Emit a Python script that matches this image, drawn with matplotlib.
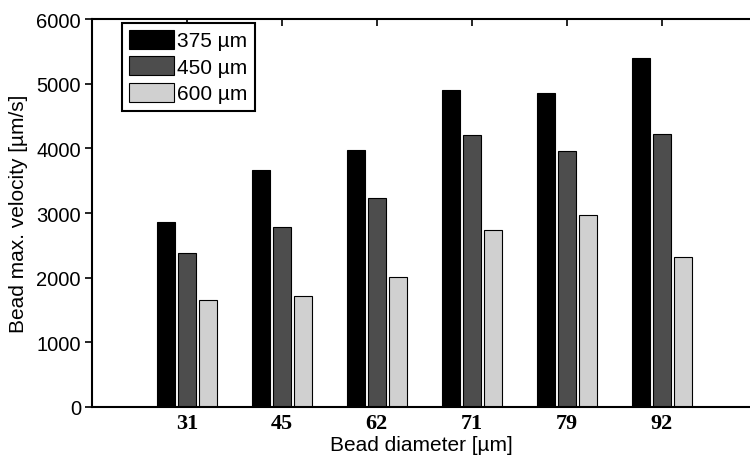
import numpy as np
import matplotlib.pyplot as plt

diameters = ["31", "45", "62", "71", "79", "92"]
series = ["375 µm", "450 µm", "600 µm"]
v375 = [2860, 3660, 3970, 4905, 4855, 5390]
v450 = [2380, 2785, 3225, 4205, 3965, 4225]
v600 = [1650, 1720, 2010, 2735, 2970, 2320]

COLORS = ["#000000", "#4d4d4d", "#d0d0d0"]


def plot():
    fig = plt.figure(figsize=(7.5, 4.6), dpi=100)
    ax = fig.add_axes([92 / 750, 52 / 460, 658 / 750, 388 / 460])

    x = np.arange(1, len(diameters) + 1)
    width = 0.19
    step = 0.22
    for i, (vals, lab) in enumerate(zip([v375, v450, v600], series)):
        ax.bar(x + (i - 1) * step, vals, width, color=COLORS[i],
               edgecolor="black", linewidth=0.8, label=lab)

    ax.set_xlim(0, 6.93)
    ax.set_ylim(0, 6000)
    ax.set_yticks(range(0, 6001, 1000))
    ax.set_xticks(x)
    ax.set_xticklabels(diameters, family="Liberation Serif",
                       fontweight="bold", fontsize=16)
    ax.tick_params(axis="x", top=True, bottom=False, direction="in",
                   length=5, width=1.2, pad=4)
    ax.tick_params(axis="y", direction="out", length=5, width=1.2,
                   labelsize=14.5, pad=3)
    for lab in ax.get_yticklabels():
        lab.set_family("Liberation Sans")

    for s in ["left", "top", "bottom"]:
        ax.spines[s].set_linewidth(1.5)
    ax.spines["right"].set_visible(False)

    ax.set_xlabel("Bead diameter [µm]", family="Liberation Sans",
                  fontsize=15, labelpad=2)
    ax.set_ylabel("Bead max. velocity [µm/s]", family="Liberation Sans",
                  fontsize=15, labelpad=6)

    leg = ax.legend(loc="upper left", bbox_to_anchor=(0.0456, 0.99),
                    borderaxespad=0, fancybox=False, framealpha=1,
                    edgecolor="black", prop={"family": "Liberation Sans",
                                             "size": 15},
                    handlelength=2.16, handleheight=1.0, labelspacing=0.29,
                    handletextpad=0.15, borderpad=0.34)
    leg.get_frame().set_linewidth(1.5)

    fig.savefig("out.png", dpi=100)


if __name__ == "__main__":
    plot()
